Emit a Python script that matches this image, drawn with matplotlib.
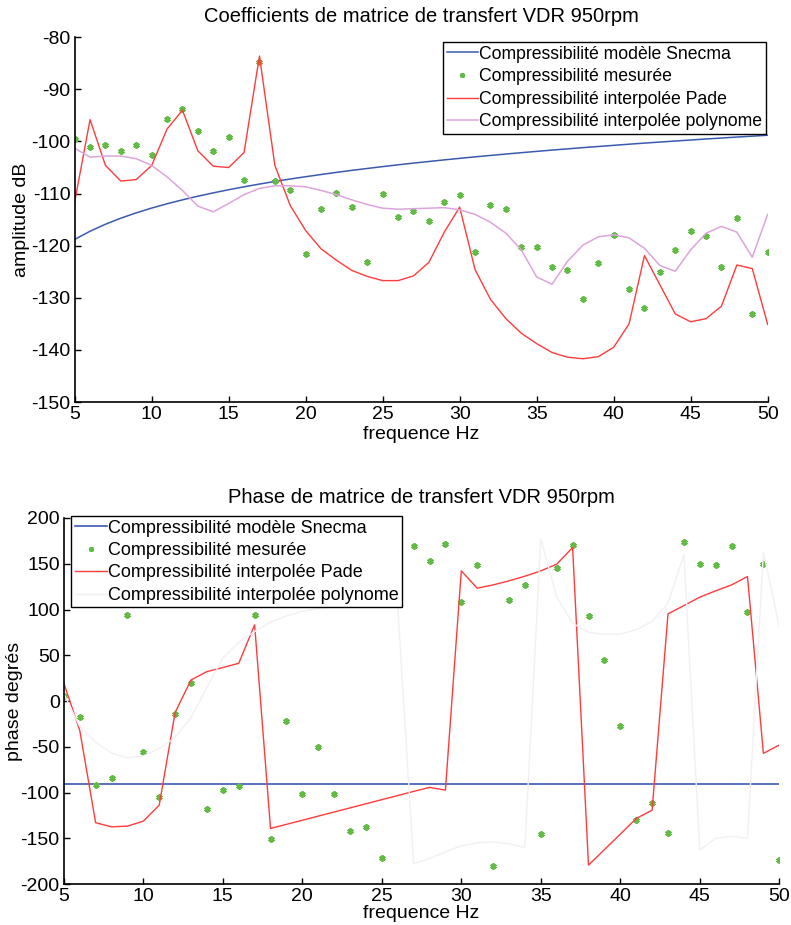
import matplotlib
matplotlib.use("Agg")
import matplotlib.pyplot as plt

plt.rcParams['font.family'] = ['Liberation Sans', 'DejaVu Sans']
plt.rcParams['axes.unicode_minus'] = False

freq = list(range(5, 51))

# ---- amplitude (dB) ----
amp_snecma = [-118.80, -117.22, -115.88, -114.72, -113.69, -112.78, -111.95, -111.20,
              -110.50, -109.86, -109.26, -108.70, -108.17, -107.67, -107.20, -106.76,
              -106.34, -105.93, -105.54, -105.18, -104.82, -104.48, -104.15, -103.84,
              -103.53, -103.24, -102.95, -102.68, -102.41, -102.15, -101.90, -101.65,
              -101.42, -101.18, -100.96, -100.74, -100.52, -100.31, -100.11, -99.91,
              -99.72, -99.52, -99.34, -99.15, -98.98, -98.80]
amp_mesure = [-99.6, -101.0, -100.6, -101.8, -100.6, -102.6, -95.6, -93.7, -98.0, -101.8,
              -99.2, -107.3, -84.7, -107.6, -109.4, -121.6, -113.0, -109.8, -112.6, -123.2,
              -110.0, -114.5, -113.4, -115.2, -111.7, -110.3, -121.2, -112.2, -113.0, -120.2,
              -120.3, -124.0, -124.7, -130.3, -123.3, -117.9, -128.3, -132.0, -125.1, -120.8,
              -117.2, -118.2, -124.0, -114.6, -133.1, -121.3]
amp_pade = [-111.6, -95.8, -104.6, -107.6, -107.3, -104.6, -97.6, -94.0, -101.8, -104.75,
            -105.0, -102.1, -83.6, -104.6, -112.3, -117.1, -120.6, -122.8, -124.75, -125.9,
            -126.7, -126.7, -125.8, -123.2, -117.4, -112.6, -124.6, -130.3, -134.0, -136.8,
            -138.8, -140.5, -141.4, -141.7, -141.3, -139.5, -135.0, -121.9, -127.5, -133.1,
            -134.6, -134.0, -131.6, -123.7, -124.4, -135.1]
amp_poly = [-101.3, -103.0, -102.8, -102.8, -103.3, -104.6, -106.8, -109.4, -112.4, -113.5,
            -111.9, -110.2, -109.0, -108.5, -108.5, -108.7, -109.4, -110.2, -111.2, -112.1,
            -112.8, -113.0, -112.9, -112.8, -112.7, -113.1, -114.0, -115.5, -117.6, -120.8,
            -126.0, -127.4, -123.0, -119.9, -118.3, -117.9, -118.5, -120.5, -123.8, -124.9,
            -120.8, -117.6, -116.3, -117.4, -122.2, -114.0]

# ---- phase (degrees) ----
phase_snecma = [-90.5] * len(freq)
phase_mesure = [5, -17, -92.3, -84.2, 94.4, -55.4, -105.0, -13.7, 19.3, -118.5,
                -97.0, -93.0, 94.1, -151.3, -21.9, -102.1, -50.3, -102.1, -142.6, -138.2,
                -171.8, 160, 169.9, 153.2, 171.4, 108.6, 148.8, -180.0, 110.5, 127.2,
                -145.5, 145.2, 170.7, 92.7, 45.2, -27.4, -129.5, -111.6, -143.7, 174.3,
                150.2, 148.4, 169.6, 97.7, 150.2, -174.0]
phase_pade = [19.4, -32.0, -133.0, -137.5, -136.7, -131.3, -113.8, -12.5, 23.0, 32.1,
              36.6, 41.2, 83.2, -139.3, -134.8, -130.3, -125.8, -121.3, -116.8, -112.3,
              -107.8, -103.3, -98.8, -94.4, -97.4, 142.2, 123.3, 126.9, 131.3, 136.4,
              142.2, 149.5, 167.7, -179.4, -162.4, -145.5, -128.4, -119.3, 95.2, 104.3,
              113.5, 120.4, 126.9, 136.0, -57.2, -48.1]
phase_poly = [8, -28, -45, -57, -62, -60, -52, -40, -18, 15,
              47, 64, 76, 86, 93, 98, 101, 103, 104, 105,
              105, 104, -178, -172, -165, -158, -155, -154, -156, -160,
              177, 114, 85, 75, 73, 73, 78, 87, 107, 160,
              -163, -150, -148, -150, 163, 81]

labels = ['Compressibilité modèle Snecma', 'Compressibilité mesurée',
          'Compressibilité interpolée Pade', 'Compressibilité interpolée polynome']

c_blue = '#3a5ab0'
c_green = '#62bb44'
c_red = '#ff3c3c'
c_pink_top = '#dda4dc'
c_pink_bot = '#f4eff4'

fig = plt.figure(figsize=(7.91, 9.25), dpi=100)

def style(ax):
    for s in ['top', 'right']:
        ax.spines[s].set_visible(False)
    for s in ['left', 'bottom']:
        ax.spines[s].set_linewidth(1.2)
    ax.tick_params(direction='in', length=4, width=1, labelsize=14, pad=3)
    ax.set_xlim(5, 50)
    ax.set_xticks(range(5, 51, 5))

# ---------- top ----------
ax1 = fig.add_axes([0.0944, 0.5654, 0.8761, 0.3943])
l1, = ax1.plot(freq, amp_snecma, color=c_blue, lw=1.1)
l2, = ax1.plot(freq, amp_mesure, ls='none', marker=(6, 2, 0), ms=4.5, mew=1.5, color=c_green)
l3, = ax1.plot(freq, amp_pade, color=c_red, lw=1.0)
l4, = ax1.plot(freq, amp_poly, color=c_pink_top, lw=1.1)
style(ax1)
ax1.set_ylim(-150, -80)
ax1.set_yticks(range(-150, -79, 10))
ax1.set_title('Coefficients de matrice de transfert VDR 950rpm', fontsize=14.5, pad=11)
ax1.set_xlabel('frequence Hz', fontsize=14, labelpad=2)
ax1.set_ylabel('amplitude dB', fontsize=14)
ax1.yaxis.set_label_coords((30 - 74.7) / 693, 0.5)
leg1 = ax1.legend([l1, l2, l3, l4], labels, loc='upper left',
                  bbox_to_anchor=(443 / 791, 1 - 42 / 925), bbox_transform=fig.transFigure,
                  fontsize=12.7, frameon=True, fancybox=False, borderaxespad=0,
                  borderpad=0.2, handlelength=1.8, handletextpad=0.05,
                  labelspacing=0.32, framealpha=1, markerscale=0.8)
leg1.get_frame().set_edgecolor('black')
leg1.get_frame().set_linewidth(1.0)

# ---------- bottom ----------
ax2 = fig.add_axes([0.0807, 0.0443, 0.9045, 0.3957])
m1, = ax2.plot(freq, phase_snecma, color=c_blue, lw=1.2)
m2, = ax2.plot(freq, phase_mesure, ls='none', marker=(6, 2, 0), ms=4.5, mew=1.5, color=c_green)
m3, = ax2.plot(freq, phase_pade, color=c_red, lw=1.0)
m4, = ax2.plot(freq, phase_poly, color=c_pink_bot, lw=1.0)
style(ax2)
ax2.set_ylim(-200, 200)
ax2.set_yticks(range(-200, 201, 50))
ax2.set_title('Phase de matrice de transfert VDR 950rpm', fontsize=14.5, pad=11)
ax2.set_xlabel('frequence Hz', fontsize=14, labelpad=0)
ax2.set_ylabel('phase degrés', fontsize=14)
ax2.yaxis.set_label_coords((23 - 63.8) / 715.5, 0.5)
leg2 = ax2.legend([m1, m2, m3, m4], labels, loc='upper left',
                  bbox_to_anchor=(71 / 791, 1 - 516 / 925), bbox_transform=fig.transFigure,
                  fontsize=13, frameon=True, fancybox=False, borderaxespad=0,
                  borderpad=0.2, handlelength=1.8, handletextpad=0.05,
                  labelspacing=0.3, framealpha=1, markerscale=0.8)
leg2.get_frame().set_edgecolor('black')
leg2.get_frame().set_linewidth(1.0)

fig.savefig('out.png', dpi=100)
